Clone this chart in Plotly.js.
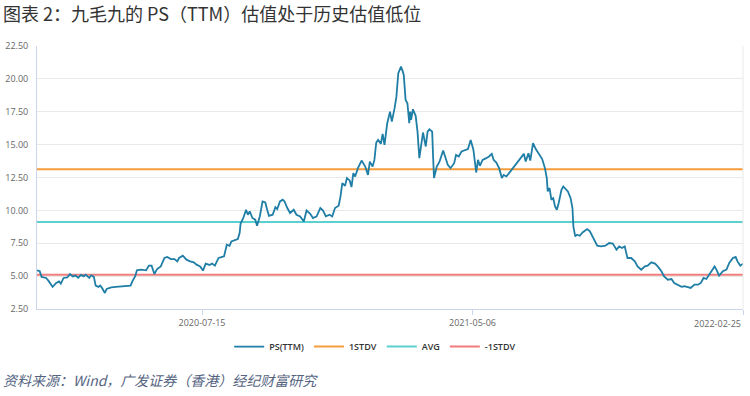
<!DOCTYPE html>
<html>
<head>
<meta charset="utf-8">
<script src="https://cdn.plot.ly/plotly-3.0.1.min.js"></script>
<style>
html,body{margin:0;padding:0;background:#fff;}
#chart{width:750px;height:396px;}
</style>
</head>
<body>
<div id="chart"></div>
<script>
const dates = [
"2020-01-17","2020-01-20","2020-01-22","2020-01-27","2020-01-30","2020-02-03","2020-02-07","2020-02-10","2020-02-12","2020-02-15",
"2020-02-19","2020-02-22","2020-02-25","2020-02-28","2020-03-02","2020-03-05","2020-03-08","2020-03-10","2020-03-14","2020-03-16",
"2020-03-19","2020-03-21","2020-03-24","2020-03-26","2020-03-28","2020-03-31","2020-04-02","2020-04-07","2020-04-12","2020-04-18",
"2020-04-23","2020-04-28","2020-04-30","2020-05-03","2020-05-05","2020-05-09","2020-05-15","2020-05-18","2020-05-21","2020-05-24",
"2020-05-27","2020-05-31","2020-06-04","2020-06-07","2020-06-11","2020-06-15","2020-06-18","2020-06-20","2020-06-24","2020-06-28",
"2020-07-02","2020-07-06","2020-07-09","2020-07-13","2020-07-16","2020-07-19","2020-07-23","2020-07-26","2020-07-29","2020-08-02",
"2020-08-06","2020-08-08","2020-08-11","2020-08-14","2020-08-16","2020-08-20","2020-08-23","2020-08-25","2020-08-26","2020-08-29",
"2020-09-01","2020-09-03","2020-09-05","2020-09-08","2020-09-11","2020-09-13","2020-09-16","2020-09-19","2020-09-22","2020-09-24",
"2020-09-26","2020-09-30","2020-10-03","2020-10-05","2020-10-08","2020-10-11","2020-10-13","2020-10-16","2020-10-19","2020-10-23",
"2020-10-26","2020-10-30","2020-11-03","2020-11-06","2020-11-10","2020-11-13","2020-11-17","2020-11-21","2020-11-24","2020-11-27",
"2020-12-01","2020-12-04","2020-12-07","2020-12-11","2020-12-13","2020-12-15","2020-12-18","2020-12-20","2020-12-23","2020-12-25",
"2020-12-27","2020-12-29","2021-01-01","2021-01-05","2021-01-09","2021-01-12","2021-01-14","2021-01-17","2021-01-19","2021-01-21",
"2021-01-23","2021-01-26","2021-01-28","2021-01-30","2021-02-02","2021-02-05","2021-02-07","2021-02-10","2021-02-12","2021-02-14",
"2021-02-17","2021-02-19","2021-02-20","2021-02-22","2021-02-24","2021-02-26","2021-02-27","2021-02-28","2021-03-02","2021-03-05",
"2021-03-07","2021-03-09","2021-03-11","2021-03-13","2021-03-16","2021-03-18","2021-03-20","2021-03-23","2021-03-24","2021-03-25",
"2021-03-28","2021-03-31","2021-04-04","2021-04-07","2021-04-09","2021-04-12","2021-04-16","2021-04-18","2021-04-21","2021-04-24",
"2021-04-28","2021-05-01","2021-05-04","2021-05-07","2021-05-10","2021-05-12","2021-05-14","2021-05-17","2021-05-21","2021-05-24",
"2021-05-27","2021-05-29","2021-06-01","2021-06-04","2021-06-07","2021-06-09","2021-06-12","2021-06-16","2021-06-19","2021-06-23",
"2021-06-26","2021-06-28","2021-07-01","2021-07-03","2021-07-06","2021-07-08","2021-07-11","2021-07-14","2021-07-17","2021-07-21",
"2021-07-24","2021-07-26","2021-07-27","2021-07-29","2021-07-31","2021-08-02","2021-08-04","2021-08-06","2021-08-08","2021-08-11",
"2021-08-13","2021-08-16","2021-08-18","2021-08-21","2021-08-23","2021-08-24","2021-08-26","2021-08-28","2021-08-31","2021-09-03",
"2021-09-05","2021-09-08","2021-09-11","2021-09-14","2021-09-19","2021-09-23","2021-09-28","2021-10-02","2021-10-06","2021-10-10",
"2021-10-13","2021-10-16","2021-10-19","2021-10-22","2021-10-26","2021-10-30","2021-11-02","2021-11-06","2021-11-10","2021-11-13",
"2021-11-17","2021-11-21","2021-11-24","2021-11-28","2021-12-01","2021-12-05","2021-12-09","2021-12-12","2021-12-16","2021-12-20",
"2021-12-23","2021-12-27","2021-12-30","2022-01-03","2022-01-07","2022-01-10","2022-01-13","2022-01-16","2022-01-19","2022-01-21",
"2022-01-25","2022-01-27","2022-01-30","2022-02-03","2022-02-07","2022-02-10","2022-02-14","2022-02-17","2022-02-19","2022-02-22",
"2022-02-25"
];
const psTTM = [
5.44,5.37,4.94,4.86,4.60,4.18,4.48,4.60,4.43,4.86,
4.90,5.16,4.98,5.04,4.88,5.09,4.98,5.11,4.86,5.06,
4.94,4.28,4.18,4.28,4.10,3.72,4.03,4.15,4.18,4.23,
4.23,4.28,4.60,4.98,5.44,5.49,5.44,5.80,5.80,5.16,
5.54,5.74,6.38,6.46,6.30,6.30,6.12,6.38,6.55,6.25,
6.12,6.05,5.87,5.74,5.42,5.95,5.85,5.95,5.80,6.38,
6.46,6.50,7.39,7.31,7.64,7.72,7.82,8.28,8.98,9.42,
10.05,9.67,9.92,9.42,9.29,8.83,9.54,10.68,10.60,10.05,
9.59,9.67,10.25,10.10,10.68,10.81,10.68,10.18,9.80,10.05,
9.67,9.54,9.16,9.99,9.74,9.42,9.54,10.18,9.99,9.54,
9.67,9.54,10.18,10.35,11.06,12.08,11.87,12.46,12.28,11.77,
12.83,12.58,13.21,13.79,13.33,12.70,13.71,13.33,13.84,15.16,
15.36,15.06,15.82,14.98,16.63,17.51,16.75,17.77,18.65,20.42,
20.93,20.55,20.30,18.40,18.15,16.63,17.51,16.88,17.69,17.19,
15.99,13.97,15.11,15.92,14.86,15.99,16.17,15.99,14.10,12.46,
13.33,13.71,14.55,13.97,13.46,13.21,13.59,14.22,14.10,14.48,
14.55,14.66,15.36,14.60,12.88,13.84,13.39,13.84,13.97,14.10,
14.30,13.84,13.64,13.21,12.46,12.70,12.58,12.96,13.21,13.59,
13.84,14.10,14.30,13.71,14.35,13.79,15.11,14.66,14.35,13.90,
13.21,12.46,11.44,11.70,10.81,10.93,10.30,10.05,10.56,11.57,
11.82,11.57,11.44,10.93,10.18,8.78,8.02,8.15,8.07,8.32,
8.40,8.58,8.40,8.02,7.31,7.26,7.31,7.52,7.47,7.01,
7.26,7.14,7.26,6.38,6.38,6.12,5.74,5.49,5.74,5.80,
6.05,5.95,5.74,5.37,4.98,4.73,4.78,4.48,4.35,4.18,
4.23,4.18,4.10,4.35,4.35,4.48,4.86,4.78,5.11,5.24,
5.74,5.49,5.04,5.37,5.49,6.00,6.38,6.46,6.12,5.80,
5.95
];
const stdUp = 13.13;
const avg = 9.12;
const stdDown = 5.11;
const tickDates = ["2020-07-15","2021-05-06","2022-02-25"];
const tickLabels = ["2020-07-15","2021-05-06",""];
const lastTickLabel = "2022-02-25";

const ends = [dates[0], dates[dates.length-1]];
const traces = [
  {x: dates, y: psTTM, name: "PS(TTM)", type: "scatter", mode: "lines", line: {color: "#1f7ea6", width: 1.8}},
  {x: ends, y: [stdUp, stdUp], name: "1STDV", type: "scatter", mode: "lines", line: {color: "#f59d3d", width: 2}},
  {x: ends, y: [avg, avg], name: "AVG", type: "scatter", mode: "lines", line: {color: "#5ccfcf", width: 2}},
  {x: ends, y: [stdDown, stdDown], name: "-1STDV", type: "scatter", mode: "lines", line: {color: "#f07c7c", width: 2}}
];
traces.reverse();

const layout = {
  width: 750, height: 396,
  margin: {l: 37, r: 7, t: 46, b: 87},
  paper_bgcolor: "#ffffff", plot_bgcolor: "#ffffff",
  showlegend: true,
  legend: {orientation: "h", x: 0.479, xanchor: "center", y: -0.143, yanchor: "middle",
           traceorder: "reversed", font: {family: "Open Sans, sans-serif", size: 9, color: "#333", weight: 600},
           itemwidth: 30},
  title: {text: "图表 2：九毛九的 PS（TTM）估值处于历史估值低位", x: 0.004, xanchor: "left", y: 0.964, yanchor: "middle",
          font: {family: "Noto Sans CJK SC, sans-serif", size: 18, color: "#333"}},
  xaxis: {type: "date", range: [dates[0], dates[dates.length-1]], tickvals: tickDates, ticktext: tickLabels,
          showgrid: false, showline: true, linecolor: "#ccd6eb", linewidth: 1, ticks: "outside", ticklen: 5,
          tickcolor: "#ccd6eb", tickfont: {family: "Open Sans, sans-serif", size: 9, color: "#666"}, zeroline: false, mirror: false},
  yaxis: {range: [2.5, 22.5], dtick: 2.5, tick0: 2.5, tickformat: ".2f", showgrid: true, gridcolor: "#e9e9e9",
          showline: true, linecolor: "#ccd6eb", linewidth: 1, ticks: "", zeroline: false,
          tickfont: {family: "Open Sans, sans-serif", size: 9, color: "#666"}, ticklabelstandoff: 6},
  shapes: [
    {type: "line", xref: "paper", yref: "paper", x0: 1, x1: 1, y0: 0, y1: 1, line: {color: "#e9e9e9", width: 1}}
  ],
  annotations: [
    {text: lastTickLabel, xref: "x", yref: "paper", x: tickDates[2], y: 0, xanchor: "right", yanchor: "top", yshift: -6,
     showarrow: false, font: {family: "Open Sans, sans-serif", size: 9, color: "#666"}},
    {text: "资料来源：Wind，广发证券（香港）经纪财富研究", xref: "paper", yref: "paper", x: -0.051, y: -0.27, xanchor: "left", yanchor: "middle",
     showarrow: false, font: {family: "Noto Sans CJK SC, sans-serif", size: 14, color: "#55647f"}}
  ]
};
Plotly.newPlot("chart", traces, layout, {displayModeBar: false, staticPlot: true}).then(function(){
  const t = document.querySelectorAll('.annotation-text');
  t.forEach(function(el){ if (el.textContent.indexOf('资料来源') === 0) { el.style.fontStyle = 'italic'; } });
});
</script>
</body>
</html>
